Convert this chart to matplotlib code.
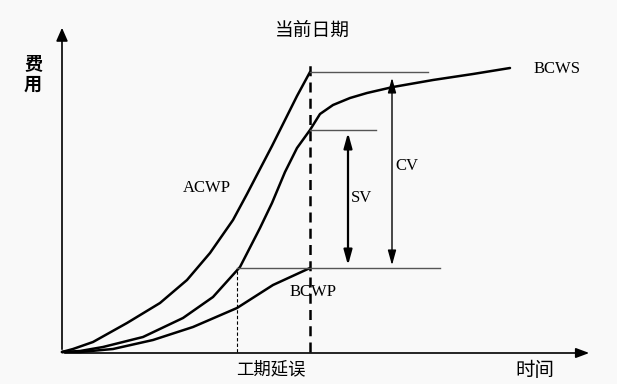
import matplotlib.pyplot as plt

plt.rcParams['font.family'] = ['Noto Sans CJK SC', 'DejaVu Sans']

# time (days) and cost values
acwp_t = [0, 11, 31, 65, 98, 125, 148, 171, 185, 198, 210, 222, 235, 248]
acwp_c = [0, 3, 10, 29, 49, 72, 99, 132, 158, 183, 206, 230, 256, 280]

bcws_t = [0, 18, 41, 81, 121, 151, 178, 198, 210, 223, 235, 248, 258, 271, 288, 305, 331, 371, 411, 448]
bcws_c = [0, 1, 5, 15, 34, 55, 85, 124, 149, 180, 204, 222, 238, 247, 254, 259, 265, 272, 278, 284]

bcwp_t = [0, 18, 51, 91, 131, 175, 211, 248]
bcwp_c = [0, 0, 3, 12, 25, 44, 67, 84]

status_date = 248
delay_date = 175
t_end = 530
c_top = 327

fig = plt.figure(figsize=(6.17, 3.84), dpi=100, facecolor='#f9f9f9')
ax = fig.add_axes([0, 0, 1, 1])
ax.set_facecolor('#f9f9f9')
ax.set_xlim(-62, 555)
ax.set_ylim(-32, 352)
ax.axis('off')

# axes with arrows
ax.annotate('', xy=(0, c_top), xytext=(0, 0),
            arrowprops=dict(arrowstyle='-|>,head_length=0.8,head_width=0.35', color='black', lw=1.2))
ax.annotate('', xy=(t_end, -1), xytext=(0, -1),
            arrowprops=dict(arrowstyle='-|>,head_length=0.8,head_width=0.3', color='black', lw=1.2))

# curves
for t, c in [(acwp_t, acwp_c), (bcws_t, bcws_c), (bcwp_t, bcwp_c)]:
    ax.plot(t, c, color='black', lw=1.8, solid_capstyle='round', solid_joinstyle='round')

# status date line and delay line
ax.plot([status_date, status_date], [0, 290], color='black', lw=1.8, linestyle=(0, (4, 2.5)))
ax.plot([delay_date, delay_date], [0, bcwp_c[-1]], color='black', lw=0.8, linestyle=(0, (3, 2)))

# reference lines
ax.plot([status_date, 366], [acwp_c[-1], acwp_c[-1]], color='#555555', lw=1)
ax.plot([status_date, 314], [222, 222], color='#555555', lw=1)
ax.plot([delay_date, 378], [bcwp_c[-1], bcwp_c[-1]], color='#555555', lw=1)

# SV and CV arrows
ax.annotate('', xy=(286, 222), xytext=(286, bcwp_c[-1]),
            arrowprops=dict(arrowstyle='<|-|>,head_length=0.9,head_width=0.25', color='black', lw=1.6))
ax.annotate('', xy=(330, 277), xytext=(330, bcwp_c[-1]),
            arrowprops=dict(arrowstyle='<|-|>,head_length=0.9,head_width=0.25', color='black', lw=1.0))

serif = ['Liberation Serif', 'DejaVu Serif']
ax.text(250, 322, '当前日期', fontsize=13.5, ha='center', va='center')
ax.text(-29, 278, '费\n用', fontsize=13, ha='center', va='center', fontweight='bold', linespacing=1.15)
ax.text(145, 164, 'ACWP', fontsize=12, family=serif, ha='center', va='center')
ax.text(495, 283, 'BCWS', fontsize=12, family=serif, ha='center', va='center')
ax.text(251, 60, 'BCWP', fontsize=12, family=serif, ha='center', va='center')
ax.text(300, 154, 'SV', fontsize=12, family=serif, ha='center', va='center')
ax.text(345, 186, 'CV', fontsize=12, family=serif, ha='center', va='center')
ax.text(209, -17, '工期延误', fontsize=12.5, ha='center', va='center')
ax.text(473, -18, '时间', fontsize=14, ha='center', va='center')

fig.savefig('out.png', dpi=100, facecolor=fig.get_facecolor())
